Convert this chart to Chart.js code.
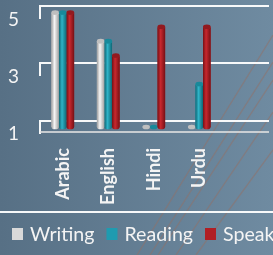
<!DOCTYPE html>
<html>
<head>
<meta charset="utf-8">
<script src="https://cdn.jsdelivr.net/npm/chart.js@4.4.0/dist/chart.umd.min.js"></script>
<style>
  html, body { margin: 0; padding: 0; overflow: hidden; }
  body { width: 273px; height: 255px; background: linear-gradient(to right, #577085, #6f8ba1); }
  #wrap { position: relative; width: 273px; height: 255px; }
</style>
</head>
<body>
<div id="wrap"><canvas id="myChart"></canvas></div>
<script>
// dati
var languages = ["Arabic", "English", "Hindi", "Urdu"];
var writing = [5, 4, 1, 1];
var reading = [5, 4, 1, 2.5];
var speaking = [5, 3.5, 4.5, 4.5];
var yTicks = [1, 3, 5];
var seriesNames = ["Writing", "Reading", "Speaking"];
var seriesColors = ["#d9d9d9", "#1f9bb0", "#b01e24"];

// sfumature per i cilindri
var shades = [
  { dark: "#9e9e9e", light: "#f6f6f6", cap: "#bfbfbf" },
  { dark: "#0f6775", light: "#2fb3c7", cap: "#18899a" },
  { dark: "#761015", light: "#c8282e", cap: "#921a1f" }
];

var textColor = "#f4f4f4";

// linee decorative in basso a destra
var backLines = {
  id: "backLines",
  beforeDraw: function(chart) {
    var ctx = chart.ctx;
    var segs = [[137, 255, 273, 35], [150, 255, 273, 62], [158, 255, 273, 80], [176, 255, 273, 112], [196, 255, 273, 150]];
    ctx.save();
    ctx.strokeStyle = "rgba(150,112,100,0.5)";
    ctx.lineWidth = 1.3;
    segs.forEach(function(s) {
      ctx.beginPath();
      ctx.moveTo(s[0], s[1]);
      ctx.lineTo(s[2], s[3]);
      ctx.stroke();
    });
    ctx.restore();
  }
};

// griglia "3d" sul fondo
var wallGrid = {
  id: "wallGrid",
  beforeDatasetsDraw: function(chart) {
    var ctx = chart.ctx;
    var y = chart.scales.y;
    var left = chart.chartArea.left;
    var right = chart.width - 4;
    ctx.save();
    ctx.strokeStyle = "rgba(255,255,255,0.95)";
    ctx.lineWidth = 2;
    y.ticks.forEach(function(t) {
      var yb = Math.round(y.getPixelForValue(t.value) - 6.5);
      ctx.beginPath();
      ctx.moveTo(right, yb);
      ctx.lineTo(left, yb);
      ctx.lineTo(left, yb + 13);
      ctx.stroke();
    });
    var yf = Math.round(y.getPixelForValue(y.min) + 5);
    ctx.strokeStyle = "rgba(225,225,225,0.8)";
    ctx.beginPath();
    ctx.moveTo(left, yf);
    ctx.lineTo(right, yf);
    ctx.stroke();
    ctx.restore();
  }
};

// disegno i cilindri sopra alle barre
var cylinders = {
  id: "cylinders",
  afterDatasetsDraw: function(chart) {
    var ctx = chart.ctx;
    ctx.save();
    chart.data.datasets.forEach(function(ds, di) {
      var meta = chart.getDatasetMeta(di);
      var sh = shades[di];
      meta.data.forEach(function(el) {
        var p = el.getProps(["x", "y", "base", "width"], true);
        var r = p.width / 2;
        var ry = p.width * 0.3;
        var top = Math.min(p.y, p.base);
        var g = ctx.createLinearGradient(p.x - r, 0, p.x + r, 0);
        g.addColorStop(0, sh.dark);
        g.addColorStop(0.4, sh.light);
        g.addColorStop(1, sh.dark);
        ctx.fillStyle = g;
        ctx.beginPath();
        ctx.moveTo(p.x - r, top);
        ctx.lineTo(p.x - r, p.base);
        ctx.ellipse(p.x, p.base, r, ry, 0, Math.PI, 0, true);
        ctx.lineTo(p.x + r, top);
        ctx.ellipse(p.x, top, r, ry, 0, 0, Math.PI, false);
        ctx.closePath();
        ctx.fill();
        ctx.fillStyle = sh.cap;
        ctx.beginPath();
        ctx.ellipse(p.x, top, r, ry, 0, 0, Math.PI * 2);
        ctx.fill();
      });
    });
    ctx.restore();
  }
};

// legenda su una riga, tagliata a destra
var rowLegend = {
  id: "rowLegend",
  afterDraw: function(chart) {
    var ctx = chart.ctx;
    var yl = chart.chartArea.bottom + chart.scales.x.height;
    ctx.save();
    ctx.strokeStyle = "rgba(255,255,255,0.95)";
    ctx.lineWidth = 2;
    ctx.beginPath();
    ctx.moveTo(0, yl);
    ctx.lineTo(chart.width, yl);
    ctx.stroke();
    ctx.font = "19.6px Lato";
    ctx.textBaseline = "alphabetic";
    var x = 12;
    chart.data.datasets.forEach(function(ds) {
      ctx.fillStyle = ds.backgroundColor;
      ctx.fillRect(x, yl + 16, 11, 12);
      ctx.fillStyle = textColor;
      ctx.fillText(ds.label, x + 18, yl + 29);
      x += 18 + ctx.measureText(ds.label).width + 12;
    });
    ctx.restore();
  }
};

var ctx = document.getElementById("myChart").getContext("2d");
var myChart = new Chart(ctx, {
  type: "bar",
  data: {
    labels: languages,
    datasets: [
      { label: seriesNames[0], data: writing, backgroundColor: seriesColors[0], base: yTicks[0] },
      { label: seriesNames[1], data: reading, backgroundColor: seriesColors[1], base: yTicks[0] },
      { label: seriesNames[2], data: speaking, backgroundColor: seriesColors[2], base: yTicks[0] }
    ]
  },
  options: {
    responsive: true,
    maintainAspectRatio: false,
    animation: false,
    layout: { padding: { top: 12.5, right: 51, bottom: 43, left: 0 } },
    datasets: { bar: { categoryPercentage: 0.5, barPercentage: 1.0 } },
    plugins: {
      legend: { display: false },
      tooltip: { enabled: false }
    },
    scales: {
      x: {
        grid: { display: false },
        border: { display: false },
        ticks: {
          color: textColor,
          font: { family: "Lato", size: 18, weight: "bold" },
          minRotation: 90,
          maxRotation: 90,
          padding: 13
        },
        afterFit: function(scale) { scale.height = 85; }
      },
      y: {
        min: 1,
        max: 5,
        grid: { display: false, drawTicks: false },
        border: { display: false },
        afterBuildTicks: function(scale) {
          scale.ticks = yTicks.map(function(v) { return { value: v }; });
        },
        ticks: {
          color: textColor,
          font: { family: "Lato", size: 19 },
          padding: 21,
          labelOffset: 7
        },
        afterFit: function(scale) {
          scale.width = 40;
          scale.paddingTop = 0;
          scale.paddingBottom = 0;
        }
      }
    }
  },
  plugins: [backLines, wallGrid, cylinders, rowLegend]
});
</script>
</body>
</html>
